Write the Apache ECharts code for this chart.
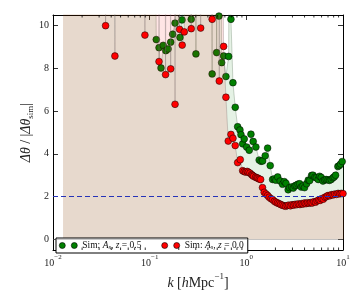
<!DOCTYPE html>
<html>
<head>
<meta charset="utf-8">
<script src="https://cdn.jsdelivr.net/npm/echarts@6/dist/echarts.min.js"></script>
<style>
html,body{margin:0;padding:0;background:#fff;}
#c{width:354px;height:295px;}
</style>
</head>
<body>
<div id="c"></div>
<script>
// ---- data (k in h/Mpc, ratio). 25 = point above the visible range (off chart) ----
var greenK = [0.0127,0.016,0.02,0.025,0.03,0.036,0.042,0.05,0.058,0.067,0.077,0.088,0.1,0.11,0.114,
  0.117,0.125,0.131,0.138,0.147,0.155,0.165,0.173,0.183,0.194,0.206,0.216,0.225,0.24,0.255,0.269,0.28,0.295,0.301,0.307,
  0.33,0.36,0.39,0.42,0.437,0.443,0.45,0.47,0.488,0.493,0.5,0.521,0.54,0.556,0.582,0.615,0.656,0.68,0.693,
  0.727,0.768,0.813,0.859,0.88,0.916,0.951,1.007,1.072,1.116,1.178,1.256,1.358,1.42,1.474,1.567,1.66,1.767,
  1.871,1.95,2.02,2.11,2.24,2.37,2.47,2.57,2.71,2.80,2.94,3.06,3.18,3.28,3.42,3.56,3.7,3.85,4.0,4.2,4.37,4.52,
  4.73,4.89,5.12,5.29,5.54,5.73,5.95,6.2,6.45,6.7,7.0,7.26,7.55,7.86,8.1,8.38,8.85,9.15,9.44,9.81,10.3];
var greenV = [25,25,25,25,25,25,25,25,25,25,25,25,25,25,25,
  9.35,8.97,8.02,9.08,8.83,8.91,9.23,9.6,10.12,25,9.45,10.27,25,25,25,10.3,25,25,8.68,25,
  25,25,25,25,25,7.74,25,25,25,8.74,25,10.45,25,8.27,8.58,7.62,8.56,25,10.3,
  7.33,6.18,5.27,5.12,4.9,4.47,4.7,4.32,4.17,4.92,4.58,4.32,3.71,3.65,3.67,3.91,4.27,3.45,
  2.8,2.83,2.77,2.92,2.73,2.58,2.7,2.62,2.32,2.42,2.45,2.4,2.5,2.53,2.58,2.6,2.45,2.5,2.42,2.6,2.77,2.75,
  2.99,3.0,2.91,2.88,2.8,2.95,2.9,2.73,2.78,2.8,2.78,2.76,2.8,2.88,2.92,3.0,3.41,3.45,3.52,3.64,3.75];

var redK = [0.0127,0.016,0.02,0.024,0.029,0.033,0.035,0.037,0.041,0.0437,0.046,0.052,0.058,0.065,0.072,0.08,0.087,
  0.0893,0.092,0.1,0.108,0.116,0.122,0.125,0.129,0.135,0.142,0.146,0.15,0.158,0.163,0.165,0.168,0.176,0.181,0.183,
  0.186,0.195,0.201,0.204,0.217,0.228,0.235,0.245,0.258,0.266,0.269,0.272,0.29,0.31,0.33,0.337,0.345,0.37,0.4,
  0.43,0.443,0.455,0.48,0.51,0.525,0.54,0.565,0.582,0.615,0.65,0.693,0.727,0.768,0.813,0.865,
  0.916,0.95,0.984,1.02,1.047,1.089,1.134,1.16,1.189,1.247,1.285,1.318,1.36,1.406,1.47,1.53,1.6,1.66,1.72,
  1.8,1.87,1.95,2.02,2.1,2.18,2.26,2.35,2.45,2.55,2.65,2.75,2.86,2.97,3.08,3.2,3.32,3.45,3.58,3.72,3.86,
  4.0,4.15,4.3,4.47,4.63,4.8,5.0,5.2,5.4,5.6,5.8,6.0,6.25,6.5,6.75,7.0,7.3,7.6,7.9,8.2,8.55,8.9,9.25,9.6,10.0,10.4];
var redV = [25,25,25,25,25,25,10.0,25,25,8.58,25,25,25,25,25,25,25,
  9.56,25,25,25,25,25,8.32,25,25,25,7.71,25,25,25,7.98,25,25,25,6.32,
  25,25,25,9.83,9.09,9.71,25,25,25,25,9.86,25,25,25,25,9.89,25,25,25,
  25,10.3,25,25,25,7.41,25,25,9.03,6.65,4.6,4.91,4.73,4.39,3.59,3.73,
  3.21,3.17,3.15,3.18,3.14,3.1,3.03,2.99,2.95,2.91,2.88,2.86,2.82,2.8,2.42,2.2,2.12,2.05,1.97,
  1.9,1.86,1.78,1.74,1.7,1.67,1.63,1.6,1.57,1.55,1.58,1.6,1.57,1.62,1.6,1.64,1.62,1.66,1.63,1.67,1.65,
  1.7,1.67,1.71,1.69,1.72,1.7,1.76,1.74,1.8,1.84,1.82,1.9,1.88,1.97,2.0,2.05,2.04,2.09,2.08,2.12,2.1,2.15,2.13,2.15,2.14,2.16];

var minorTickK = [0.02,0.03,0.04,0.05,0.06,0.07,0.08,0.09,0.2,0.3,0.4,0.5,0.6,0.7,0.8,0.9,2,3,4,5,6,7,8,9];
var yTicks = [0,2,4,6,8,10];
var thresholdY = 2;
var seriesNames = ['Sim: A_s, z = 0.5', 'Sim: A_s, z = 0.0'];
var legendZ = ['0.5', '0.0'];

function pairs(k, v){ return k.map(function(x,i){ return [x, v[i]]; }); }

var serif = 'Liberation Serif, DejaVu Serif, serif';
var chart = echarts.init(document.getElementById('c'), null, {renderer:'canvas'});

var supRich = {
  b:{fontFamily:serif,fontSize:10,color:'#222',lineHeight:14,verticalAlign:'bottom'},
  s:{fontFamily:serif,fontSize:7,color:'#222',lineHeight:14,verticalAlign:'top'}
};

var yTickAxis = {
  axisLine:{show:true,onZero:false,lineStyle:{color:'#000',width:1}},
  axisTick:{show:true,inside:true,length:5,lineStyle:{color:'#000',width:0.8},
            customValues:yTicks},
  splitLine:{show:false}
};

chart.setOption({
  animation:false,
  backgroundColor:'#fff',
  grid:{left:53,right:11,top:15,bottom:38,containLabel:false},
  legend:{
    data:seriesNames,
    left:56, top:238,
    orient:'horizontal',
    backgroundColor:'#fff', borderColor:'#000', borderWidth:1, borderRadius:0,
    padding:[2,4,2,3],
    itemWidth:18, itemHeight:7, itemGap:20,
    icon:'path://M0,3a3,3 0 1,0 6,0a3,3 0 1,0 -6,0M12,3a3,3 0 1,0 6,0a3,3 0 1,0 -6,0',
    itemStyle:{borderColor:'#000',borderWidth:0.6},
    formatter:function(name){
      var z = legendZ[seriesNames.indexOf(name)];
      return '{n|Sim:} {i|A}{sub|s}{n|,} {i|z} {n|=} {n|' + z + '}';
    },
    textStyle:{
      fontFamily:serif,fontSize:9.5,color:'#111',lineHeight:11,
      rich:{
        n:{fontFamily:serif,fontSize:9.5,color:'#111'},
        i:{fontFamily:serif,fontSize:9.5,fontStyle:'italic',color:'#111'},
        sub:{fontFamily:serif,fontSize:6.5,fontStyle:'italic',color:'#111',verticalAlign:'bottom'}
      }
    }
  },
  xAxis:[{
    type:'log', logBase:10, min:0.01, max:10, position:'bottom',
    name:'{i|k} {n|[}{i|h}{n|Mpc}{s|−1}{n|]}',
    nameLocation:'middle', nameGap:22, nameMoveOverlap:false,
    nameTextStyle:{
      rich:{
        i:{fontFamily:serif,fontSize:14,fontStyle:'italic',color:'#222',verticalAlign:'bottom',lineHeight:18},
        n:{fontFamily:serif,fontSize:14,color:'#222',verticalAlign:'bottom',lineHeight:18},
        s:{fontFamily:serif,fontSize:9,color:'#222',verticalAlign:'top',lineHeight:18}
      }
    },
    axisLine:{show:true,onZero:false,lineStyle:{color:'#000',width:1}},
    axisTick:{show:true,inside:true,length:5,lineStyle:{color:'#000',width:0.8}},
    axisLabel:{
      margin:4,
      formatter:function(v){
        var e = Math.round(Math.log10(v));
        return '{b|10}{s|' + (e<0 ? '−'+(-e) : e) + '}';
      },
      rich:supRich
    },
    splitLine:{show:false}
  },{
    type:'log', logBase:10, min:0.01, max:10, position:'top',
    axisLine:{show:true,onZero:false,lineStyle:{color:'#000',width:1}},
    axisTick:{show:true,inside:true,length:5,lineStyle:{color:'#000',width:0.8}},
    axisLabel:{show:false}, splitLine:{show:false}
  }],
  yAxis:[Object.assign({
    type:'value', min:-0.5, max:10.5, position:'left',
    name:'{i|Δθ} {n|/} {n||}{i|Δθ}{sub|sim}{n||}',
    nameLocation:'middle', nameRotate:90, nameGap:18, nameMoveOverlap:false,
    nameTextStyle:{
      rich:{
        i:{fontFamily:serif,fontSize:14,fontStyle:'italic',color:'#222',lineHeight:18,verticalAlign:'middle'},
        n:{fontFamily:serif,fontSize:14,color:'#222',lineHeight:18,verticalAlign:'middle'},
        sub:{fontFamily:serif,fontSize:9,color:'#222',lineHeight:12,verticalAlign:'bottom'}
      }
    },
    axisLabel:{
      margin:4, fontFamily:serif, fontSize:10, color:'#222',
      customValues:yTicks,
      formatter:function(v){ return String(v); }
    }
  }, yTickAxis), Object.assign({
    type:'value', min:-0.5, max:10.5, position:'right',
    axisLabel:{show:false}
  }, yTickAxis)],
  series:[{
    name:seriesNames[0], type:'line', data:pairs(greenK, greenV),
    xAxisIndex:0, yAxisIndex:0, clip:true,
    symbol:'circle', symbolSize:6.8, showAllSymbol:true,
    itemStyle:{color:'#008000',borderColor:'#000',borderWidth:0.5},
    lineStyle:{color:'rgba(80,110,80,0.3)',width:1},
    areaStyle:{color:'rgba(0,128,0,0.1)',opacity:1,origin:0},
    emphasis:{disabled:true}, z:2
  },{
    name:seriesNames[1], type:'line', data:pairs(redK, redV),
    xAxisIndex:0, yAxisIndex:0, clip:true,
    symbol:'circle', symbolSize:6.8, showAllSymbol:true,
    itemStyle:{color:'#ff0000',borderColor:'#000',borderWidth:0.5},
    lineStyle:{color:'rgba(120,100,100,0.3)',width:1},
    areaStyle:{color:'rgba(255,0,0,0.1)',opacity:1,origin:0},
    emphasis:{disabled:true}, z:3,
    markLine:{
      silent:true, symbol:'none', label:{show:false},
      data:[
        {yAxis:thresholdY, lineStyle:{color:'#2633b8',width:1,type:[5,3]}},
        {yAxis:0, lineStyle:{color:'rgba(120,120,120,0.5)',width:0.8,type:'solid'}}
      ]
    }
  },{
    type:'custom', silent:true, clip:false, z:10,
    xAxisIndex:0, yAxisIndex:0,
    data:minorTickK.map(function(k){ return [k, 0]; }),
    encode:{x:0,y:1},
    renderItem:function(params, api){
      var x = api.coord([api.value(0), 0])[0];
      var cs = params.coordSys;
      var b = cs.y + cs.height, t = cs.y;
      return {type:'group', children:[
        {type:'line', shape:{x1:x,y1:b,x2:x,y2:b-2.5}, style:{stroke:'#000',lineWidth:0.8}},
        {type:'line', shape:{x1:x,y1:t,x2:x,y2:t+2.5}, style:{stroke:'#000',lineWidth:0.8}}
      ]};
    }
  }]
});
</script>
</body>
</html>
